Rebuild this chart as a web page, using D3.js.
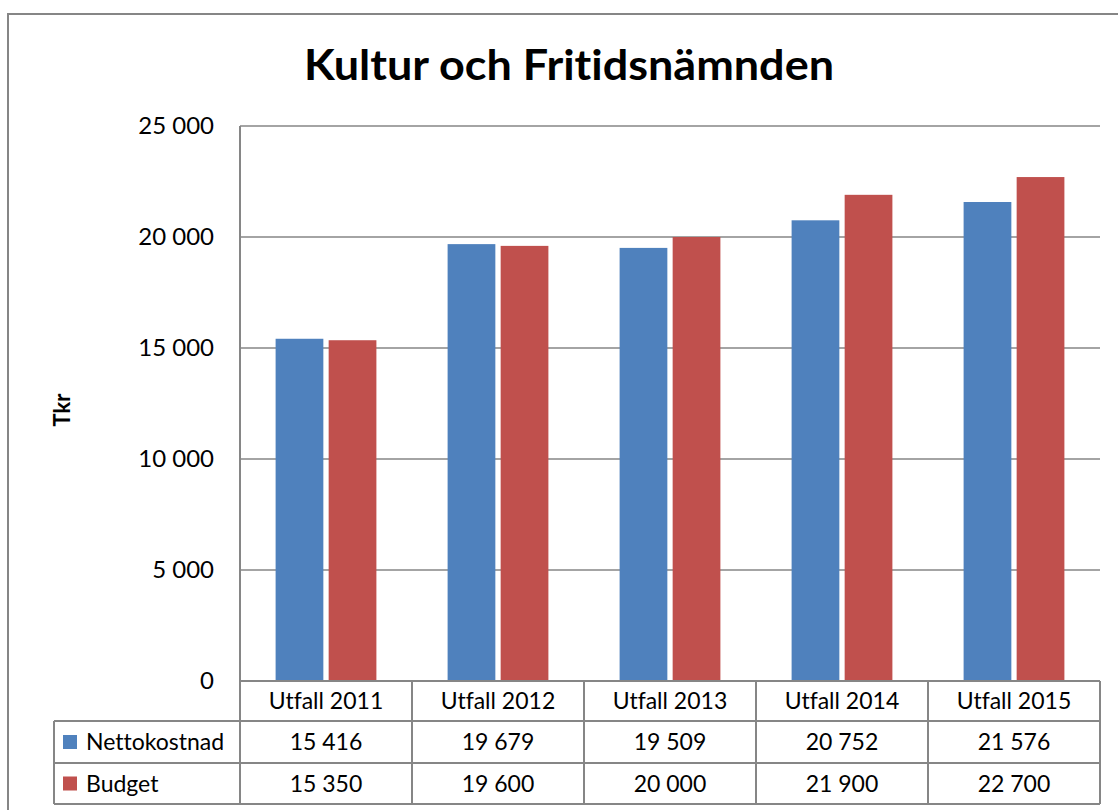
<!DOCTYPE html>
<html>
<head>
<meta charset="utf-8">
<script src="https://cdn.jsdelivr.net/npm/d3@7"></script>
<style>
  body { margin: 0; background: #fff; }
  svg text { font-family: Lato, "Open Sans", sans-serif; fill: #000; font-variant-ligatures: none; }
</style>
</head>
<body>
<div id="chart"></div>
<script>
// chart values
const categories = ["Utfall 2011", "Utfall 2012", "Utfall 2013", "Utfall 2014", "Utfall 2015"];
const seriesNames = ["Nettokostnad", "Budget"];
const nettokostnad = [15416, 19679, 19509, 20752, 21576];
const budget = [15350, 19600, 20000, 21900, 22700];
const yTicks = [0, 5000, 10000, 15000, 20000, 25000];

const width = 1118, height = 810;
const margin = {left: 240, right: 18, top: 126, bottom: 129};
const colors = ["#4f81bd", "#c0504d"];
const lineColor = "#868686";

const locale = d3.formatLocale({decimal: ",", thousands: " ", grouping: [3], currency: ["", ""]});
const fmt = locale.format(",d");

const svg = d3.select("#chart").append("svg")
    .attr("width", width)
    .attr("height", height);

// outer chart border (runs off the page on the right and bottom)
svg.append("rect")
    .attr("x", 8).attr("y", 14)
    .attr("width", 1200).attr("height", 900)
    .attr("fill", "none")
    .attr("stroke", lineColor)
    .attr("stroke-width", 2);

// title
svg.append("text")
    .attr("x", 569).attr("y", 80)
    .attr("text-anchor", "middle")
    .attr("font-size", 42)
    .attr("font-weight", "bold")
    .attr("textLength", 530)
    .attr("lengthAdjust", "spacingAndGlyphs")
    .text("Kultur och Fritidsnämnden");

const x = d3.scaleBand()
    .domain(categories)
    .range([margin.left, width - margin.right]);

const y = d3.scaleLinear()
    .domain([0, 25000])
    .range([height - margin.bottom, margin.top]);

const xSub = d3.scaleBand()
    .domain(seriesNames)
    .range([x.bandwidth() * 0.207, x.bandwidth() * 0.793])
    .paddingInner(0.1);

// gridlines
svg.append("g")
  .selectAll("line")
  .data(yTicks.filter(d => d > 0))
  .join("line")
    .attr("x1", margin.left).attr("x2", width - margin.right)
    .attr("y1", d => y(d)).attr("y2", d => y(d))
    .attr("stroke", lineColor)
    .attr("stroke-width", 1.5);

// y tick labels
svg.append("g")
  .selectAll("text")
  .data(yTicks)
  .join("text")
    .attr("x", 214)
    .attr("y", d => y(d))
    .attr("dy", "0.35em")
    .attr("text-anchor", "end")
    .attr("font-size", 24)
    .text(d => fmt(d));

// y axis title
svg.append("text")
    .attr("transform", "translate(70,410) rotate(-90)")
    .attr("text-anchor", "middle")
    .attr("font-size", 22)
    .attr("font-weight", "bold")
    .text("Tkr");

// bars
const rows = [nettokostnad, budget];
svg.append("g")
  .selectAll("g")
  .data(rows)
  .join("g")
    .attr("fill", (d, i) => colors[i])
  .selectAll("rect")
  .data((d, i) => d.map((v, j) => ({key: seriesNames[i], cat: categories[j], value: v})))
  .join("rect")
    .attr("x", d => x(d.cat) + xSub(d.key))
    .attr("y", d => y(d.value))
    .attr("width", xSub.bandwidth())
    .attr("height", d => y(0) - y(d.value));

// data table
const rowH = [40, 42, 41];
const y0 = y(0);
const rowTops = [y0, y0 + rowH[0], y0 + rowH[0] + rowH[1], y0 + rowH[0] + rowH[1] + rowH[2]];
const legendLeft = 54;
const table = svg.append("g")
    .attr("stroke", lineColor)
    .attr("stroke-width", 2);

// horizontal lines
table.append("line")
    .attr("x1", margin.left).attr("x2", width - margin.right)
    .attr("y1", rowTops[0]).attr("y2", rowTops[0]);
rowTops.slice(1).forEach(t => {
  table.append("line")
      .attr("x1", legendLeft).attr("x2", width - margin.right)
      .attr("y1", t).attr("y2", t);
});
// vertical lines
table.append("line")
    .attr("x1", margin.left).attr("x2", margin.left)
    .attr("y1", y(25000)).attr("y2", rowTops[3]);
table.append("line")
    .attr("x1", legendLeft).attr("x2", legendLeft)
    .attr("y1", rowTops[1]).attr("y2", rowTops[3]);
categories.forEach(c => {
  const xr = x(c) + x.bandwidth();
  table.append("line")
      .attr("x1", xr).attr("x2", xr)
      .attr("y1", rowTops[0]).attr("y2", rowTops[3]);
});

// header labels
svg.append("g")
  .selectAll("text")
  .data(categories)
  .join("text")
    .attr("x", d => x(d) + x.bandwidth() / 2)
    .attr("y", (rowTops[0] + rowTops[1]) / 2)
    .attr("dy", "0.35em")
    .attr("text-anchor", "middle")
    .attr("font-size", 23)
    .text(d => d);

// value rows and legend keys
rows.forEach((vals, i) => {
  const cy = (rowTops[i + 1] + rowTops[i + 2]) / 2;
  svg.append("rect")
      .attr("x", 63).attr("y", cy - 7)
      .attr("width", 14).attr("height", 14)
      .attr("fill", colors[i]);
  svg.append("text")
      .attr("x", 86).attr("y", cy)
      .attr("dy", "0.35em")
      .attr("font-size", 23)
      .text(seriesNames[i]);
  svg.append("g")
    .selectAll("text")
    .data(vals)
    .join("text")
      .attr("x", (d, j) => x(categories[j]) + x.bandwidth() / 2)
      .attr("y", cy)
      .attr("dy", "0.35em")
      .attr("text-anchor", "middle")
      .attr("font-size", 23)
      .text(d => fmt(d));
});
</script>
</body>
</html>
